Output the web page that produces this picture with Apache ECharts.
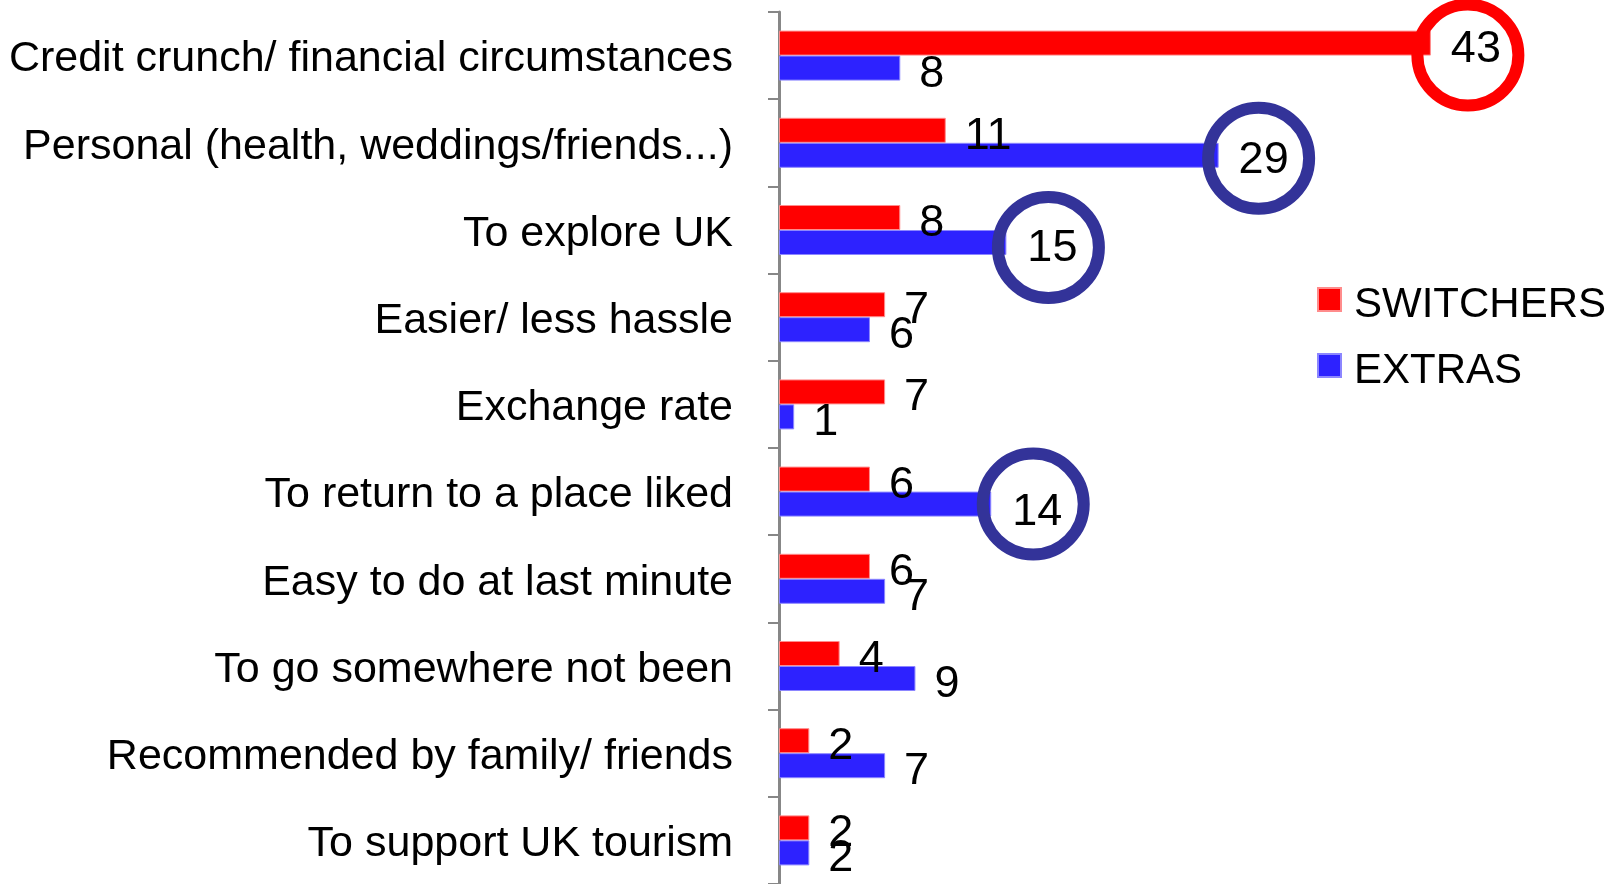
<!DOCTYPE html>
<html>
<head>
<meta charset="utf-8">
<script src="https://cdn.jsdelivr.net/npm/echarts@6/dist/echarts.min.js"></script>
<style>
  html, body { margin: 0; padding: 0; background: #ffffff; }
  #chart { width: 1611px; height: 884px; }
</style>
</head>
<body>
<div id="chart"></div>
<script>
// ---- data ----
const categories = [
  'Credit crunch/ financial circumstances',
  'Personal (health, weddings/friends...)',
  'To explore UK',
  'Easier/ less hassle',
  'Exchange rate',
  'To return to a place liked',
  'Easy to do at last minute',
  'To go somewhere not been',
  'Recommended by family/ friends',
  'To support UK tourism'
];
const seriesNames = ['SWITCHERS', 'EXTRAS'];
const switchers = [43, 11, 8, 7, 7, 6, 6, 4, 2, 2];
const extras = [8, 29, 15, 6, 1, 14, 7, 9, 7, 2];
// circled values: [series index, category index]
const circled = [[0, 0], [1, 1], [1, 2], [1, 5]];

// ---- styles ----
const FONT = '"Liberation Sans", Arial, sans-serif';
const seriesColors = ['#FF0000', '#2D22FF'];
const seriesBorders = ['#FF8C8C', '#8C86FF'];
const circleColors = ['#FF0000', '#333399'];
// circle placement styles: cx = circle centre offset from bar end, cy = vertical offset,
// tx/ty = text offset from circle centre
const circleStyle = {
  '0-0': { cx: 37, cy: 12, tx: 8, ty: -6 },
  '1-1': { cx: 40, cy: 3, tx: 5, ty: 2 },
  '1-2': { cx: 42, cy: 5, tx: 4, ty: 1 },
  '1-5': { cx: 42, cy: 0, tx: 4, ty: 8 }
};
const BOX = 101;
const LABEL_DY = 6;

function isCircled(si, di) {
  return circled.some(c => c[0] === si && c[1] === di);
}

function circleLabel(s, color) {
  const pl = Math.max(0, 2 * s.tx), pr = Math.max(0, -2 * s.tx);
  const pt = Math.max(0, 2 * s.ty), pb = Math.max(0, -2 * s.ty);
  const w = BOX - pl - pr, h = BOX - pt - pb;
  return {
    show: true,
    position: 'right',
    distance: s.cx,
    align: 'center',
    verticalAlign: 'middle',
    formatter: p => '{ring|' + p.value + '}',
    padding: [pt, pr, pb, pl],
    borderColor: color,
    borderWidth: 6,
    borderRadius: BOX,
    backgroundColor: 'transparent',
    rich: {
      ring: {
        width: w,
        height: h,
        lineHeight: h,
        align: 'center',
        verticalAlign: 'middle',
        fontSize: 45,
        fontFamily: FONT,
        color: '#000'
      }
    }
  };
}

function buildData(values, si) {
  return values.map((v, i) => {
    if (!isCircled(si, i)) return v;
    return { value: v, label: circleLabel(circleStyle[si + '-' + i], circleColors[si]) };
  });
}

const seriesValues = [switchers, extras];

const chart = echarts.init(document.getElementById('chart'), null, { renderer: 'canvas' });
chart.setOption({
  animation: false,
  backgroundColor: '#ffffff',
  textStyle: { fontFamily: FONT },
  grid: { left: 779, right: 74, top: 12, bottom: -4, containLabel: false },
  legend: {
    orient: 'vertical',
    left: 1312,
    top: 279,
    itemWidth: 23,
    itemHeight: 23,
    itemGap: 24,
    icon: 'rect',
    data: seriesNames,
    formatter: name => '{n|' + name + '}',
    textStyle: {
      color: '#000',
      fontFamily: FONT,
      padding: [11, 0, 0, 8],
      rich: { n: { fontSize: 42, lineHeight: 41, fontFamily: FONT, color: '#000' } }
    }
  },
  xAxis: {
    type: 'value',
    min: 0,
    max: 50,
    show: false
  },
  yAxis: {
    type: 'category',
    inverse: true,
    data: categories,
    axisLine: { show: true, lineStyle: { color: '#878787', width: 3 } },
    axisTick: { show: true, length: 11, lineStyle: { color: '#878787', width: 2 } },
    axisLabel: {
      color: '#000',
      margin: 46,
      fontFamily: FONT,
      padding: [8, 0, 0, 0],
      formatter: v => '{t|' + v + '}',
      rich: { t: { fontSize: 43, lineHeight: 43, fontFamily: FONT, color: '#000' } }
    },
    splitLine: { show: false }
  },
  series: seriesNames.map((name, si) => ({
    name: name,
    type: 'bar',
    data: buildData(seriesValues[si], si),
    barWidth: 25,
    barGap: '0%',
    itemStyle: { color: seriesColors[si], borderColor: seriesBorders[si], borderWidth: 1 },
    label: {
      show: true,
      position: 'right',
      distance: 19,
      fontSize: 45,
      color: '#000',
      fontFamily: FONT
    },
    labelLayout: function (params) {
      const key = params.seriesIndex + '-' + params.dataIndex;
      if (isCircled(params.seriesIndex, params.dataIndex)) {
        return { dy: circleStyle[key].cy, hideOverlap: false };
      }
      return { dy: LABEL_DY, hideOverlap: false };
    }
  }))
});
</script>
</body>
</html>
